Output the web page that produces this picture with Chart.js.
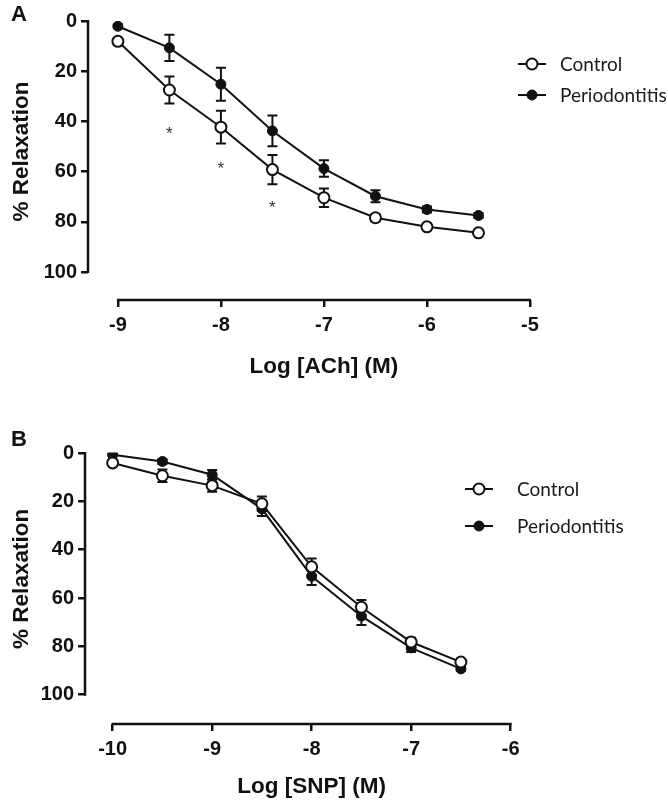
<!DOCTYPE html>
<html>
<head>
<meta charset="utf-8">
<script src="https://cdn.jsdelivr.net/npm/chart.js@4.4.0/dist/chart.umd.min.js"></script>
<style>
  html, body { margin: 0; padding: 0; background: #fff; }
  #wrap { position: relative; width: 668px; height: 807px; }
  canvas { position: absolute; left: 0; }
  #chartA { top: 0; }
  #chartB { top: 403px; }
</style>
</head>
<body>
<div id="wrap">
  <canvas id="chartA" width="668" height="403"></canvas>
  <canvas id="chartB" width="668" height="404"></canvas>
</div>
<script>
// ---- Panel A : ACh ----
const logAch        = [-9, -8.5, -8, -7.5, -7, -6.5, -6, -5.5];
const ctrlAch       = [8.1, 27.5, 42.3, 59.2, 70.4, 78.4, 82.0, 84.4];
const ctrlAchErr    = [1.0, 5.4, 6.5, 5.8, 3.7, 1.5, 1.2, 1.0];
const perioAch      = [2.1, 10.7, 25.2, 43.8, 58.8, 69.8, 75.1, 77.5];
const perioAchErr   = [0.8, 5.2, 6.6, 6.1, 3.3, 2.4, 1.2, 1.0];
const starAchX      = [-8.5, -8, -7.5];
const starAchY      = [43.4, 57.5, 73.1];
const xTicksAch     = [-9, -8, -7, -6, -5];

// ---- Panel B : SNP ----
const logSnp        = [-10, -9.5, -9, -8.5, -8, -7.5, -7, -6.5];
const ctrlSnp       = [4.1, 9.4, 13.5, 21.0, 47.1, 63.8, 78.2, 86.5];
const ctrlSnpErr    = [1.0, 2.6, 2.5, 3.0, 3.5, 3.0, 1.8, 1.0];
const perioSnp      = [0.7, 3.5, 9.0, 23.1, 51.0, 67.5, 80.6, 89.3];
const perioSnpErr   = [0.5, 1.0, 2.0, 3.0, 3.6, 3.7, 1.7, 0.8];
const xTicksSnp     = [-10, -9, -8, -7, -6];

const yTicks        = [0, 20, 40, 60, 80, 100];

const INK = "#111111";
const AXIS_FONT = "'Liberation Sans', Arial, sans-serif";
const LEGEND_FONT = "Lato, 'Open Sans', sans-serif";

// error bars under the markers
const errorBars = {
    id: "errorBars",
    beforeDatasetsDraw(chart) {
        const { ctx, scales: { x, y } } = chart;
        ctx.save();
        ctx.strokeStyle = INK;
        ctx.lineWidth = 2;
        chart.data.datasets.forEach((ds) => {
            ds.data.forEach((p, i) => {
                const e = ds.err[i];
                const px = x.getPixelForValue(p.x);
                const y1 = y.getPixelForValue(p.y - e);
                const y2 = y.getPixelForValue(p.y + e);
                ctx.beginPath();
                ctx.moveTo(px, y1); ctx.lineTo(px, y2);
                ctx.moveTo(px - 5, y1); ctx.lineTo(px + 5, y1);
                ctx.moveTo(px - 5, y2); ctx.lineTo(px + 5, y2);
                ctx.stroke();
            });
        });
        ctx.restore();
    },
};

// axis lines, titles, panel letter, stars, legend
const decor = {
    id: "decor",
    afterDraw(chart, args, o) {
        const { ctx, chartArea, scales: { x, y } } = chart;
        ctx.save();

        // offset axis lines (GraphPad style)
        ctx.strokeStyle = INK;
        ctx.lineWidth = 2.5;
        ctx.beginPath();
        ctx.moveTo(chartArea.left, y.getPixelForValue(0) - 1);
        ctx.lineTo(chartArea.left, y.getPixelForValue(100) + 1);
        const xa = x.getPixelForValue(o.xTicks[0]);
        const xb = x.getPixelForValue(o.xTicks[o.xTicks.length - 1]);
        ctx.moveTo(xa - 1, chartArea.bottom);
        ctx.lineTo(xb + 1, chartArea.bottom);
        ctx.stroke();

        // axis titles
        ctx.fillStyle = INK;
        ctx.font = "bold 22.5px " + AXIS_FONT;
        ctx.textAlign = "center";
        ctx.textBaseline = "middle";
        ctx.fillText(o.xTitle, (xa + xb) / 2, o.xTitleY);
        ctx.save();
        ctx.translate(22, (y.getPixelForValue(0) + y.getPixelForValue(100)) / 2 + 5);
        ctx.rotate(-Math.PI / 2);
        ctx.fillText("% Relaxation", 0, 0);
        ctx.restore();

        // panel letter
        ctx.font = "bold 22px " + AXIS_FONT;
        ctx.textAlign = "left";
        ctx.fillText(o.letter, 11, o.letterY);

        // significance stars
        ctx.font = "17px " + AXIS_FONT;
        ctx.fillStyle = "#333";
        ctx.textAlign = "center";
        o.starX.forEach((sx, i) => {
            ctx.fillText("*", x.getPixelForValue(sx), y.getPixelForValue(o.starY[i]) + 4);
        });

        // legend
        ctx.font = "19px " + LEGEND_FONT;
        ctx.textAlign = "left";
        chart.data.datasets.forEach((ds, i) => {
            const ly = o.legendY[i];
            const cx = o.legendX + 14;
            ctx.strokeStyle = INK;
            ctx.lineWidth = 2;
            ctx.beginPath();
            ctx.moveTo(o.legendX, ly); ctx.lineTo(o.legendX + 28, ly);
            ctx.stroke();
            ctx.beginPath();
            ctx.arc(cx, ly, ds.pointRadius, 0, Math.PI * 2);
            ctx.fillStyle = ds.pointBackgroundColor;
            ctx.fill();
            ctx.lineWidth = ds.pointBorderWidth;
            ctx.stroke();
            ctx.fillStyle = "#1a1a1a";
            ctx.fillText(ds.label, o.textX, ly + 1);
        });

        ctx.restore();
    },
};

function makePanel(id, g) {
    const pts = (xs, ys) => xs.map((v, i) => ({ x: v, y: ys[i] }));
    const tickFont = { family: AXIS_FONT, size: 20, weight: "bold" };

    new Chart(document.getElementById(id), {
        type: "line",
        data: {
            datasets: [
                {
                    label: "Control",
                    data: pts(g.xs, g.ctrl),
                    err: g.ctrlErr,
                    borderColor: INK,
                    borderWidth: 2,
                    pointRadius: 5.5,
                    pointBackgroundColor: "#ffffff",
                    pointBorderColor: INK,
                    pointBorderWidth: 2,
                    tension: 0,
                },
                {
                    label: "Periodontitis",
                    data: pts(g.xs, g.perio),
                    err: g.perioErr,
                    borderColor: INK,
                    borderWidth: 2,
                    pointRadius: 5,
                    pointBackgroundColor: INK,
                    pointBorderColor: INK,
                    pointBorderWidth: 1,
                    tension: 0,
                },
            ],
        },
        options: {
            responsive: false,
            animation: false,
            layout: { padding: { top: g.padTop, right: g.padRight, left: 0, bottom: 0 } },
            scales: {
                x: {
                    type: "linear",
                    min: g.xMin,
                    max: g.xMax,
                    afterBuildTicks: (s) => { s.ticks = g.xTicks.map((v) => ({ value: v })); },
                    afterFit: (s) => { s.height = g.xH; },
                    border: { display: false },
                    grid: { drawOnChartArea: false, tickLength: 7, color: INK, lineWidth: 2.5 },
                    ticks: { padding: 6, color: INK, font: tickFont, maxRotation: 0, callback: (v) => String(v) },
                },
                y: {
                    reverse: true,
                    min: 0,
                    max: g.yMax,
                    afterBuildTicks: (s) => { s.ticks = yTicks.map((v) => ({ value: v })); },
                    afterFit: (s) => { s.width = g.yW; },
                    border: { display: false },
                    grid: { drawOnChartArea: false, tickLength: 7, color: INK, lineWidth: 2.5 },
                    ticks: { padding: 4, color: INK, font: tickFont, callback: (v) => String(v) },
                },
            },
            plugins: {
                legend: { display: false },
                tooltip: { enabled: false },
                decor: g.decor,
            },
        },
        plugins: [errorBars, decor],
    });
}

makePanel("chartA", {
    xs: logAch, ctrl: ctrlAch, ctrlErr: ctrlAchErr, perio: perioAch, perioErr: perioAchErr,
    xTicks: xTicksAch, xMin: -9.29, xMax: -4.903, yMax: 111.16,
    padTop: 21, padRight: 128, yW: 88, xH: 103,
    decor: {
        xTicks: xTicksAch, xTitle: "Log [ACh] (M)", xTitleY: 367,
        letter: "A", letterY: 15,
        starX: starAchX, starY: starAchY,
        legendX: 518, legendY: [64, 95], textX: 560,
    },
});

makePanel("chartB", {
    xs: logSnp, ctrl: ctrlSnp, ctrlErr: ctrlSnpErr, perio: perioSnp, perioErr: perioSnpErr,
    xTicks: xTicksSnp, xMin: -10.278, xMax: -5.906, yMax: 112.1,
    padTop: 50, padRight: 148, yW: 85, xH: 83,
    decor: {
        xTicks: xTicksSnp, xTitle: "Log [SNP] (M)", xTitleY: 384,
        letter: "B", letterY: 37,
        starX: [], starY: [],
        legendX: 465, legendY: [86, 123], textX: 517,
    },
});
</script>
</body>
</html>
